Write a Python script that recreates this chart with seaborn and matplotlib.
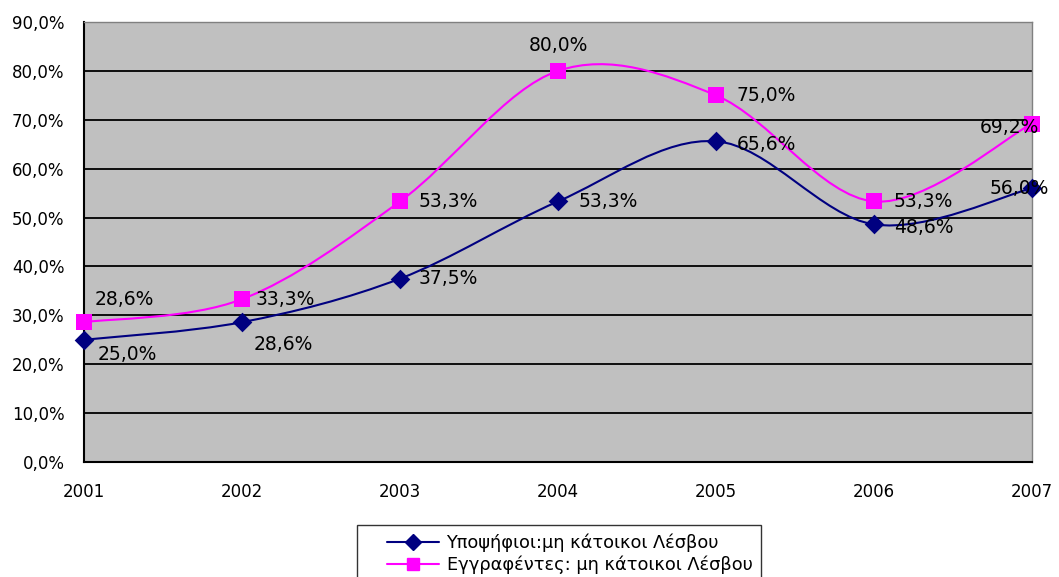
import numpy as np
import pandas as pd
import matplotlib
matplotlib.use('Agg')
import matplotlib.pyplot as plt
from matplotlib.path import Path
from matplotlib.patches import PathPatch
from matplotlib.lines import Line2D
from matplotlib.legend_handler import HandlerLine2D
from matplotlib.ticker import FuncFormatter, MultipleLocator
import seaborn as sns

# data (percent)
years = ['2001', '2002', '2003', '2004', '2005', '2006', '2007']
ypopsifioi = [25.0, 28.6, 37.5, 53.3, 65.6, 48.6, 56.0]
eggrafentes = [28.6, 33.3, 53.3, 80.0, 75.0, 53.3, 69.2]
names = ['Υποψήφιοι:μη κάτοικοι Λέσβου', 'Εγγραφέντες: μη κάτοικοι Λέσβου']

# label placement (pixel offsets from the point, alignment)
off_ypo = [(14, -15, 'left'), (12, -22, 'left'), (19, 0, 'left'), (21, 0, 'left'),
           (21, -3, 'left'), (20, -3, 'left'), (-42, 0, 'left')]
off_egg = [(11, 23, 'left'), (14, 0, 'left'), (19, 0, 'left'), (0, 25, 'center'),
           (21, 0, 'left'), (20, 0, 'left'), (-52, -4, 'left')]

sns.set_style('white')
plt.rcParams['font.family'] = ['DejaVu Sans']
plt.rcParams['text.color'] = 'black'

df = pd.DataFrame({'x': np.arange(len(years)), 'ypo': ypopsifioi, 'egg': eggrafentes})

fig = plt.figure(figsize=(10.59, 5.77), dpi=100)
ax = fig.add_axes([84 / 1059, 1 - 462 / 577, (1032 - 84) / 1059, (462 - 22) / 577])
ax.set_facecolor('#C0C0C0')


def smooth(xs, ys):
    # excel-like smoothed line: bezier segments, catmull-rom control points
    xs, ys = list(xs), list(ys)
    px = [xs[0]] + xs + [xs[-1]]
    py = [ys[0]] + ys + [ys[-1]]
    verts = [(xs[0], ys[0])]
    codes = [Path.MOVETO]
    for i in range(len(xs) - 1):
        x0, x1, x2, x3 = px[i], px[i + 1], px[i + 2], px[i + 3]
        y0, y1, y2, y3 = py[i], py[i + 1], py[i + 2], py[i + 3]
        verts += [(x1 + (x2 - x0) / 6, y1 + (y2 - y0) / 6),
                  (x2 - (x3 - x1) / 6, y2 - (y3 - y1) / 6),
                  (x2, y2)]
        codes += [Path.CURVE4] * 3
    return Path(verts, codes)


series = [('ypo', '#000080', 'D', 10, off_ypo), ('egg', '#FF00FF', 's', 11, off_egg)]
for col, c, m, ms, offs in series:
    ax.add_patch(PathPatch(smooth(df['x'], df[col]), facecolor='none', edgecolor=c,
                           lw=1.5, zorder=3, clip_on=False))
    sns.scatterplot(data=df, x='x', y=col, color=c, marker=m, s=ms ** 2,
                    edgecolor=c, linewidth=0, zorder=4, clip_on=False, ax=ax, legend=False)
    for i, v in enumerate(df[col]):
        dx, dy, ha = offs[i]
        ax.annotate(f'{v:.1f}%'.replace('.', ','), (i, v), xytext=(dx, dy),
                    textcoords='offset pixels', ha=ha, va='center', fontsize=13.5,
                    color='black', zorder=5, annotation_clip=False)

ax.set_xlim(0, 6)
ax.set_ylim(0, 90)
ax.yaxis.set_major_locator(MultipleLocator(10))
ax.yaxis.set_major_formatter(FuncFormatter(lambda v, p: f'{v:.1f}%'.replace('.', ',')))
ax.set_xticks(range(len(years)))
ax.set_xticklabels(years)
ax.set_xlabel('')
ax.set_ylabel('')
ax.grid(axis='y', color='black', lw=1.3)
ax.set_axisbelow(True)
ax.tick_params(axis='both', direction='out', length=5, width=1.2, color='black',
               labelsize=12, labelcolor='black')
ax.tick_params(axis='y', pad=9)
ax.tick_params(axis='x', pad=10)
for s in ['left', 'bottom']:
    ax.spines[s].set_color('black')
    ax.spines[s].set_linewidth(1.5)
for s in ['top', 'right']:
    ax.spines[s].set_color('#808080')
    ax.spines[s].set_linewidth(1.0)

handles = [Line2D([], [], color='#000080', marker='D', markersize=8, lw=1.5),
           Line2D([], [], color='#FF00FF', marker='s', markersize=9, lw=1.5)]
leg = fig.legend(handles, names, loc='upper center', bbox_to_anchor=(559 / 1059, 1 - 525 / 577),
                 frameon=True, fancybox=False, shadow=False, fontsize=12.8, handlelength=4.1,
                 borderpad=0.5, labelspacing=0.2, handletextpad=0.45, borderaxespad=0,
                 labelcolor='black', handler_map={Line2D: HandlerLine2D(xpad=1.2)})
leg.get_frame().set_edgecolor('black')
leg.get_frame().set_linewidth(1.0)

fig.savefig('out.png', dpi=100, facecolor='white')
